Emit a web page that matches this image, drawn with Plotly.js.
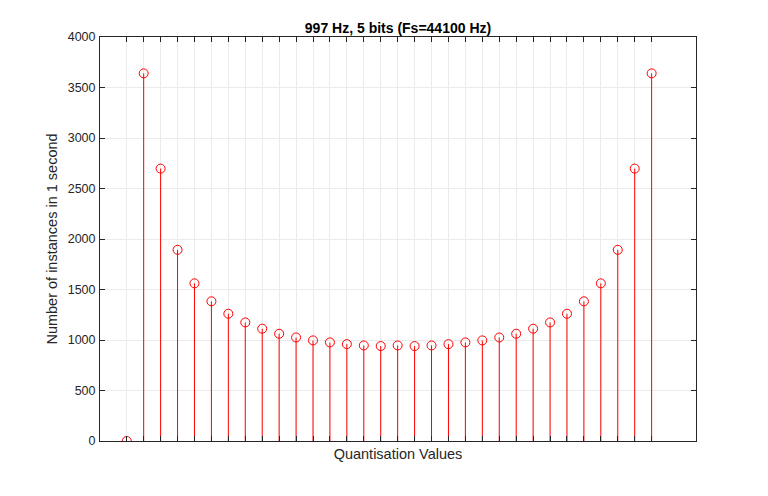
<!DOCTYPE html>
<html>
<head>
<meta charset="utf-8">
<script src="https://cdn.plot.ly/plotly-3.0.1.min.js"></script>
<style>
  body { margin: 0; background: #fff; }
  #graph { width: 768px; height: 496px; }
</style>
</head>
<body>
<div id="graph"></div>
<script>
// quantisation level index (32 levels for 5 bits)
const levels = [
  0, 1, 2, 3, 4, 5, 6, 7, 8, 9, 10, 11, 12, 13, 14, 15,
  16, 17, 18, 19, 20, 21, 22, 23, 24, 25, 26, 27, 28, 29, 30, 31
]
// number of samples landing on each level in 1 second
const counts = [
  0, 3640, 2697, 1893, 1561, 1383, 1260, 1174, 1112, 1062, 1025, 996, 976, 959, 946, 940,
  946, 940, 946, 959, 976, 996, 1025, 1062, 1112, 1174, 1260, 1383, 1561, 1893, 2697, 3640
]
const yTicks = [0, 500, 1000, 1500, 2000, 2500, 3000, 3500, 4000]

const red = '#ff0000'
const axisColor = '#262626'
const gridColor = '#ebebeb'

// stems: one segment per level, from 0 up to the count
let stemX = []
let stemY = []
for (var i = 0; i < levels.length; i++) {
  stemX.push(levels[i], levels[i], null)
  stemY.push(0, counts[i], null)
}

const axisBase = {
  showline: true,
  linecolor: axisColor,
  linewidth: 1,
  mirror: 'ticks',
  ticks: 'inside',
  ticklen: 5,
  tickcolor: axisColor,
  tickwidth: 1,
  showgrid: true,
  gridcolor: gridColor,
  gridwidth: 1,
  zeroline: false,
  automargin: false
}

Plotly.newPlot(
  'graph',
  [
    {
      x: stemX,
      y: stemY,
      type: 'scatter',
      mode: 'lines',
      line: { color: red, width: 1 },
      hoverinfo: 'skip',
      showlegend: false
    },
    {
      x: levels,
      y: counts,
      type: 'scatter',
      mode: 'markers',
      marker: {
        symbol: 'circle-open',
        size: 9,
        color: red,
        line: { color: red, width: 1 }
      },
      showlegend: false
    }
  ],
  {
    width: 768,
    height: 496,
    paper_bgcolor: '#ffffff',
    plot_bgcolor: '#ffffff',
    font: { family: 'Liberation Sans, Arial, sans-serif', size: 12.5, color: axisColor },
    margin: { l: 100, r: 72, t: 37, b: 55 },
    title: {
      text: '<b>997 Hz, 5 bits (Fs=44100 Hz)</b>',
      font: { size: 14, color: '#000000' },
      x: 0.5,
      xref: 'paper',
      xanchor: 'center',
      y: 1,
      yref: 'paper',
      yanchor: 'bottom',
      pad: { b: 4 }
    },
    xaxis: Object.assign({}, axisBase, {
      range: [-1.58, 33.62],
      tickvals: levels,
      showticklabels: false,
      title: { text: 'Quantisation Values', font: { size: 14.5 }, standoff: 7 }
    }),
    yaxis: Object.assign({}, axisBase, {
      range: [0, 4000],
      tickvals: yTicks,
      ticktext: yTicks.map(String),
      ticklabelstandoff: 1,
      title: { text: 'Number of instances in 1 second', font: { size: 14.5 }, standoff: 6 }
    })
  },
  { staticPlot: true, displayModeBar: false }
)
</script>
</body>
</html>
